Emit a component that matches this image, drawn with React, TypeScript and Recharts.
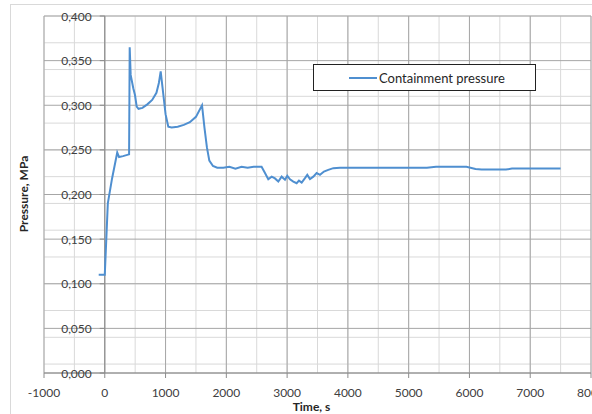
import React from "react";
import {
  CartesianGrid,
  Legend,
  Line,
  LineChart,
  ReferenceDot,
  ReferenceLine,
  XAxis,
  YAxis,
} from "recharts";

// time, s
const times = [
  -100, 0, 50, 120, 205, 235, 300, 400, 410, 426, 469, 497, 525, 555, 620, 700, 780, 850, 890, 920,
  950, 1000, 1045, 1100, 1200, 1300, 1400, 1500, 1600, 1640, 1680, 1720, 1780, 1850, 1950, 2050,
  2150, 2250, 2350, 2450, 2580, 2636, 2690, 2746, 2800, 2855, 2910, 2965, 3003, 3047, 3102, 3157,
  3195, 3240, 3294, 3332, 3376, 3431, 3486, 3541, 3606, 3677, 3760, 3870, 4500, 5300, 5450, 5950,
  6100, 6200, 6600, 6700, 7500,
];

// containment pressure, MPa
const pressure = [
  0.11, 0.11, 0.19, 0.218, 0.247, 0.242, 0.243, 0.245, 0.365, 0.334, 0.319, 0.3115, 0.2985, 0.296,
  0.297, 0.301, 0.306, 0.314, 0.325, 0.338, 0.32, 0.29, 0.276, 0.275, 0.276, 0.278, 0.281, 0.287,
  0.3, 0.275, 0.253, 0.238, 0.232, 0.23, 0.23, 0.231, 0.229, 0.231, 0.23, 0.231, 0.231, 0.224,
  0.217, 0.22, 0.218, 0.2145, 0.22, 0.2165, 0.221, 0.217, 0.2145, 0.2127, 0.2156, 0.2134, 0.2183,
  0.222, 0.2172, 0.22, 0.224, 0.222, 0.2257, 0.2276, 0.2295, 0.23, 0.23, 0.23, 0.231, 0.231,
  0.2285, 0.228, 0.228, 0.229, 0.229,
];

const xTicks = [-1000, 0, 1000, 2000, 3000, 4000, 5000, 6000, 7000, 8000];
const xMinor = [-1000, -500, 0, 500, 1000, 1500, 2000, 2500, 3000, 3500, 4000, 4500, 5000, 5500, 6000, 6500, 7000, 7500, 8000];
const yTicks = [0, 0.05, 0.1, 0.15, 0.2, 0.25, 0.3, 0.35, 0.4];
const yMinor = [
  0, 0.01, 0.02, 0.03, 0.04, 0.05, 0.06, 0.07, 0.08, 0.09, 0.1, 0.11, 0.12, 0.13, 0.14, 0.15, 0.16,
  0.17, 0.18, 0.19, 0.2, 0.21, 0.22, 0.23, 0.24, 0.25, 0.26, 0.27, 0.28, 0.29, 0.3, 0.31, 0.32, 0.33,
  0.34, 0.35, 0.36, 0.37, 0.38, 0.39, 0.4,
];

const data = times.map((t, i) => ({ t, p: pressure[i] }));

const FONT = "Lato, 'Open Sans', sans-serif";
const LINE = "#4f8fd0";
const AXIS = "#8c8c8c";

const fmtY = (v: number) => v.toFixed(3).replace(".", ",");

const YTick = ({ cx, cy, label }: { cx?: number; cy?: number; label: string }) => (
  <g>
    <line x1={ (cx ?? 0) - 5 } x2={ cx } y1={ cy } y2={ cy } stroke={ AXIS }/>
    <text x={ (cx ?? 0) - 13 } y={ cy } textAnchor="end" dominantBaseline="central"
      fontFamily={ FONT } fontSize={ 12 } fill="#404040">{ label }</text>
  </g>
);

const LegendBox = () => (
  <div style={ {
    width: 223, height: 27, boxSizing: "border-box", border: "1px solid #222", background: "#fff",
    display: "flex", alignItems: "center", fontFamily: FONT, fontSize: 13, color: "#262626",
  } }>
    <svg width={ 28 } height={ 4 } style={ { marginLeft: 35, marginRight: 2 } }>
      <line x1={ 0 } x2={ 28 } y1={ 2 } y2={ 2 } stroke={ LINE } strokeWidth={ 2 }/>
    </svg>
    <span>Containment pressure</span>
  </div>
);

const App = () => (
  <div style={ { position: "absolute", left: 0, top: 0, width: 592, height: 414, background: "#fff" } }>
    <div style={ { position: "absolute", left: 10, top: 4, right: 0, bottom: 0, borderLeft: "1px solid #d9d9d9", borderTop: "1px solid #d9d9d9" } }/>
    <LineChart width={ 592 } height={ 414 } data={ data } margin={ { top: 16, right: 1, bottom: 0, left: 44 } }>
      <CartesianGrid stroke="#d9d9d9" horizontalValues={ yMinor } verticalValues={ xMinor }/>
      <CartesianGrid stroke="#a6a6a6" horizontalValues={ yTicks } verticalValues={ xTicks }/>
      <XAxis dataKey="t" type="number" domain={ [-1000, 8000] } ticks={ xTicks } interval={ 0 }
        height={ 41 } tickSize={ 5 } tickMargin={ 10 } stroke={ AXIS }
        tick={ { fill: "#404040", fontSize: 12, fontFamily: FONT } }
        label={ ({ viewBox }: any) => (
          <text x={ viewBox.x + viewBox.width / 2 - 6 } y={ viewBox.y + viewBox.height - 8 }
            textAnchor="middle" dominantBaseline="central" fontFamily={ FONT } fontSize={ 12 }
            fontWeight="bold" fill="#262626">Time, s</text>
        ) }/>
      <YAxis hide domain={ [0, 0.4] } ticks={ yTicks }/>
      <ReferenceLine x={ 0 } stroke={ AXIS }/>
      { yTicks.map((v) => (
        <ReferenceDot key={ v } x={ 0 } y={ v } r={ 0 } shape={ (p: any) => <YTick { ...p } label={ fmtY(v) }/> }/>
      )) }
      <text x={ 23.5 } y={ 194 } transform="rotate(-90 23.5 194)" textAnchor="middle"
        dominantBaseline="central" fontFamily={ FONT } fontSize={ 12 } fontWeight="bold" fill="#262626">
        Pressure, MPa
      </text>
      <Legend layout="horizontal" verticalAlign="middle" align="center"
        wrapperStyle={ { left: 313, top: 64, width: 223 } } content={ () => <LegendBox/> }/>
      <Line dataKey="p" type="linear" stroke={ LINE } strokeWidth={ 2 } dot={ false }
        isAnimationActive={ false } name="Containment pressure"/>
    </LineChart>
  </div>
);

export default App;
